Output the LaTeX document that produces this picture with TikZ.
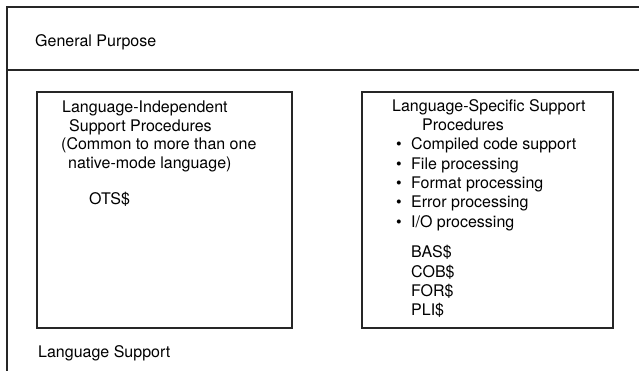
\documentclass[tikz,border=0pt]{standalone}
\usepackage{fontspec}
\setmainfont{TeX Gyre Heros}
\begin{document}
\begin{tikzpicture}[x=1pt,y=-1pt,
  txt/.style={anchor=base west,inner sep=0pt,font=\fontsize{16}{19}\selectfont},
  frame/.style={line width=1.4pt,black!85},
  box/.style={draw,line width=1.6pt,black!85}]
\useasboundingbox (0,0) rectangle (639,371);
% outer frame
\coordinate (tl) at (7,7);
\coordinate (tr) at (639,7);
\coordinate (bl) at (7,371);
\coordinate (ml) at (7,70);
\coordinate (mr) at (639,70);
\draw[frame] (tr) -- (tl) -- (bl);
\draw[frame] (ml) -- (mr);
\node[txt] (gp) at (35,47) {General Purpose};
% left box
\draw[box] (37,92) rectangle (292,328);
\node[txt] (l1) at (62,113) {Language-Independent};
\node[txt] (l2) at (69,132) {Support Procedures};
\node[txt] (l3) at (61,150) {(Common to more than one};
\node[txt] (l4) at (68,169) {native-mode language)};
\node[txt] (ots) at (89,205) {OTS\$};
% right box
\draw[box] (362,92) rectangle (613,328);
\node[txt] (r1) at (392,112) {Language-Specific Support};
\node[txt] (r2) at (422,131) {Procedures};
\foreach \y/\t [count=\i] in {150/{Compiled code support},169.5/{File processing},189/{Format processing},208/{Error processing},227/{I/O processing}}{
  \node[txt] (b\i) at (396,\y) {\textbullet};
  \node[txt] (t\i) at (411,\y) {\t};
}
\node[txt] (bas) at (411,258) {BAS\$};
\node[txt] (cob) at (411,277) {COB\$};
\node[txt] (for) at (411,296) {FOR\$};
\node[txt] (pli) at (411,315) {PLI\$};
\node[txt] (ls) at (38,357) {Language Support};
\end{tikzpicture}
\end{document}
